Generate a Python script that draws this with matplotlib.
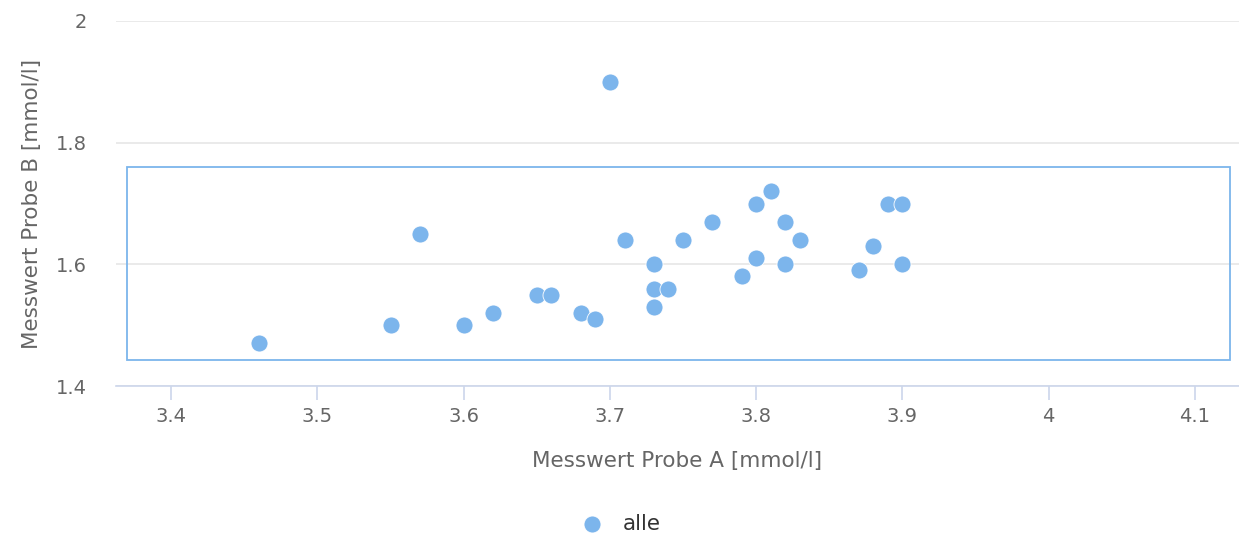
import matplotlib
matplotlib.use('Agg')
import matplotlib.pyplot as plt
from matplotlib.patches import Rectangle

# data
probe_a = [3.46, 3.55, 3.57, 3.60, 3.62, 3.65, 3.66, 3.68, 3.69, 3.70,
           3.71, 3.73, 3.73, 3.73, 3.74, 3.75, 3.77, 3.79, 3.80, 3.80,
           3.81, 3.82, 3.82, 3.83, 3.87, 3.88, 3.89, 3.90, 3.90]
probe_b = [1.47, 1.50, 1.65, 1.50, 1.52, 1.55, 1.55, 1.52, 1.51, 1.90,
           1.64, 1.60, 1.56, 1.53, 1.56, 1.64, 1.67, 1.58, 1.70, 1.61,
           1.72, 1.67, 1.60, 1.64, 1.59, 1.63, 1.70, 1.70, 1.60]
box_x = [3.37, 4.124]
box_y = [1.442, 1.76]
xticks = [3.4, 3.5, 3.6, 3.7, 3.8, 3.9, 4.0, 4.1]
xtick_labels = ['3.4', '3.5', '3.6', '3.7', '3.8', '3.9', '4', '4.1']
yticks = [1.4, 1.6, 1.8, 2.0]
ytick_labels = ['1.4', '1.6', '1.8', '2']

plt.rcParams['font.family'] = ['DejaVu Sans']

fig = plt.figure(figsize=(12.39, 5.38), dpi=100)
ax = fig.add_axes([116/1239, 1-386/538, 1-116/1239, (386-21)/538])

ax.scatter(probe_a, probe_b, s=150, color='#7cb5ec', edgecolors='white',
           linewidths=0.6, zorder=3, label='alle')
ax.add_patch(Rectangle((box_x[0], box_y[0]), box_x[1]-box_x[0], box_y[1]-box_y[0],
                       fill=False, edgecolor='#7cb5ec', linewidth=1.3, zorder=2))

ax.set_xlim(3.3623, 4.1301)
ax.set_ylim(1.4, 2.0)
ax.set_xticks(xticks)
ax.set_xticklabels(xtick_labels)
ax.set_yticks(yticks)
ax.set_yticklabels(ytick_labels)
ax.grid(axis='y', color='#e6e6e6', linewidth=1.2, zorder=0)
ax.set_axisbelow(True)

for side in ['top', 'right', 'left']:
    ax.spines[side].set_visible(False)
ax.spines['bottom'].set_color('#ccd6eb')
ax.spines['bottom'].set_linewidth(1.2)
ax.tick_params(axis='x', colors='#ccd6eb', length=10, width=1.2, direction='out',
               labelcolor='#666666', labelsize=14, pad=5)
ax.tick_params(axis='y', length=0, labelcolor='#666666', labelsize=14, pad=21)

ax.set_xlabel('Messwert Probe A [mmol/l]', fontsize=15.5, color='#666666', labelpad=18)
ax.set_ylabel('Messwert Probe B [mmol/l]', fontsize=15.5, color='#666666', labelpad=10)

leg = fig.legend(loc='center', bbox_to_anchor=(0.497, 1-524/538), frameon=False,
                 fontsize=15.5, handletextpad=0.4, markerscale=1.0)
for t in leg.get_texts():
    t.set_color('#333333')

fig.savefig('out.png', dpi=100)
